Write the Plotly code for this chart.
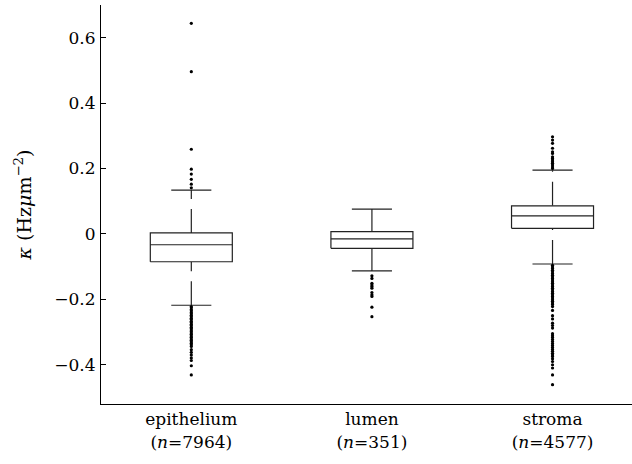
import plotly.graph_objects as go

# ---------------- data ----------------
categories = ["epithelium", "lumen", "stroma"]
counts = [7964, 351, 4577]
positions = [1, 2, 3]

q1 = [-0.085, -0.044, 0.017]
median = [-0.033, -0.015, 0.055]
q3 = [0.003, 0.007, 0.086]
lower_whisker = [-0.218, -0.113, -0.092]
upper_whisker = [0.134, 0.076, 0.195]

outliers_epithelium = [
    0.644, 0.496, 0.259, 0.198, 0.183, 0.167, 0.152, 0.141,
    -0.222, -0.226, -0.231, -0.235, -0.240, -0.244, -0.249, -0.253,
    -0.258, -0.262, -0.267, -0.271, -0.276, -0.280, -0.285, -0.289,
    -0.294, -0.298, -0.303, -0.307, -0.312, -0.316, -0.321, -0.325,
    -0.330, -0.334, -0.339, -0.344, -0.354, -0.362, -0.370, -0.379,
    -0.387, -0.403, -0.431,
]
outliers_lumen = [
    -0.128, -0.136, -0.151, -0.156, -0.161, -0.166, -0.179, -0.186,
    -0.191, -0.224, -0.253,
]
outliers_stroma = [
    0.297, 0.287, 0.277, 0.262, 0.251, 0.246, 0.236, 0.231, 0.226,
    0.221, 0.216, 0.211, 0.205, 0.200,
    -0.096, -0.101, -0.106, -0.111, -0.116, -0.121, -0.126, -0.131,
    -0.136, -0.141, -0.146, -0.151, -0.156, -0.161, -0.166, -0.171,
    -0.176, -0.181, -0.186, -0.191, -0.196, -0.201, -0.206, -0.211,
    -0.216, -0.222, -0.234, -0.250, -0.260, -0.273, -0.280, -0.288,
    -0.305, -0.311, -0.317, -0.323, -0.329, -0.335, -0.341, -0.347,
    -0.353, -0.359, -0.365, -0.370, -0.375, -0.382, -0.390, -0.400,
    -0.410, -0.431, -0.461,
]
outliers = [outliers_epithelium, outliers_lumen, outliers_stroma]

y_tick_values = [-0.4, -0.2, 0, 0.2, 0.4, 0.6]
y_tick_labels = ["\u22120.4", "\u22120.2", "0", "0.2", "0.4", "0.6"]
x_tick_labels = [f"{c}<br>(<i>n</i>={n})" for c, n in zip(categories, counts)]

# ---------------- style ----------------
FONT = "DejaVu Serif"
LINE = "#222222"
BOX_HALF = 0.227
CAP_HALF = 0.111

fig = go.Figure()

for i, x in enumerate(positions):
    # whiskers (dashed, drawn from lower value to higher value)
    for a, b in ((lower_whisker[i], q1[i]), (q3[i], upper_whisker[i])):
        fig.add_trace(go.Scatter(
            x=[x, x], y=[a, b], mode="lines",
            line=dict(color=LINE, width=1.2, dash="24px,10px"),
            hoverinfo="skip", showlegend=False))
    # caps
    caps_x = [x - CAP_HALF, x + CAP_HALF, None, x - CAP_HALF, x + CAP_HALF]
    caps_y = [lower_whisker[i], lower_whisker[i], None, upper_whisker[i], upper_whisker[i]]
    fig.add_trace(go.Scatter(
        x=caps_x, y=caps_y, mode="lines",
        line=dict(color=LINE, width=1.2),
        hoverinfo="skip", showlegend=False))
    # box
    fig.add_trace(go.Scatter(
        x=[x - BOX_HALF, x + BOX_HALF, x + BOX_HALF, x - BOX_HALF, x - BOX_HALF],
        y=[q1[i], q1[i], q3[i], q3[i], q1[i]],
        mode="lines", fill="toself", fillcolor="white",
        line=dict(color=LINE, width=1.2),
        hoverinfo="skip", showlegend=False))
    # median
    fig.add_trace(go.Scatter(
        x=[x - BOX_HALF, x + BOX_HALF], y=[median[i], median[i]],
        mode="lines", line=dict(color=LINE, width=1.2),
        hoverinfo="skip", showlegend=False))
    # outliers
    fig.add_trace(go.Scatter(
        x=[x] * len(outliers[i]), y=outliers[i], mode="markers",
        marker=dict(color="black", size=3.2),
        hoverinfo="skip", showlegend=False))

fig.update_layout(
    width=632, height=464,
    margin=dict(l=101, r=0, t=5, b=60),
    paper_bgcolor="white", plot_bgcolor="white",
    font=dict(family=FONT, size=17, color="black"),
    showlegend=False,
)
fig.update_xaxes(
    range=[0.5, 3.44], tickvals=positions, ticktext=x_tick_labels,
    ticks="", showgrid=False, zeroline=False,
    showline=True, linecolor="black", linewidth=1,
    tickfont=dict(family=FONT, size=17, color="black"),
)
fig.update_yaxes(
    range=[-0.52, 0.7], tickvals=y_tick_values, ticktext=y_tick_labels,
    ticks="inside", ticklen=5, tickcolor="black", tickwidth=1,
    ticklabelstandoff=1,
    showgrid=False, zeroline=False,
    showline=True, linecolor="black", linewidth=1,
    tickfont=dict(family=FONT, size=17, color="black"),
    title=dict(text="<i>\u03ba</i> (Hz<i>\u03bc</i>m<sup>\u22122</sup>)",
               font=dict(family=FONT, size=19, color="black"), standoff=17),
)

fig.write_html(
    "out.html",
    config={"displayModeBar": False},
    post_script="document.body.style.margin='0';document.body.style.overflow='hidden';",
)
